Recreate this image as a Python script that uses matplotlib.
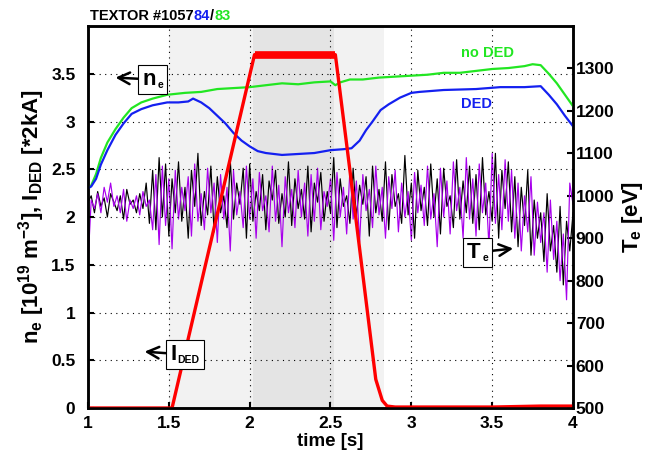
import numpy as np
import matplotlib
matplotlib.use("Agg")
import matplotlib.pyplot as plt
import matplotlib.transforms as mtransforms
from matplotlib.ticker import FuncFormatter
from matplotlib.offsetbox import AnnotationBbox, HPacker, TextArea

plt.rcParams['font.family'] = ['Liberation Sans', 'DejaVu Sans']
plt.rcParams['font.weight'] = 'bold'
plt.rcParams['mathtext.fontset'] = 'custom'
plt.rcParams['mathtext.rm'] = 'Liberation Sans:bold'
plt.rcParams['mathtext.bf'] = 'Liberation Sans:bold'
plt.rcParams['mathtext.default'] = 'bf'

# line density n_e, shot 105783 (no DED)
t_noded = [1.0, 1.02, 1.05, 1.08, 1.12, 1.17, 1.22, 1.27, 1.33, 1.40, 1.49, 1.6, 1.7,
           1.8, 1.9, 2.0, 2.1, 2.2, 2.3, 2.4, 2.5, 2.53, 2.56, 2.62, 2.7, 2.8, 2.9, 3.0,
           3.1, 3.2, 3.3, 3.4, 3.5, 3.6, 3.7, 3.75, 3.8, 3.85, 3.9, 3.95, 4.0]
ne_noded = [2.30, 2.33, 2.45, 2.62, 2.78, 2.92, 3.04, 3.14, 3.20, 3.24, 3.28, 3.30, 3.31,
            3.34, 3.35, 3.36, 3.38, 3.40, 3.39, 3.41, 3.42, 3.38, 3.41, 3.44, 3.44, 3.46,
            3.47, 3.48, 3.49, 3.51, 3.51, 3.53, 3.55, 3.56, 3.58, 3.60, 3.59, 3.50, 3.40,
            3.28, 3.16]

# line density n_e, shot 105784 (DED)
t_ded = [1.0, 1.02, 1.05, 1.08, 1.12, 1.17, 1.22, 1.27, 1.33, 1.40, 1.49, 1.56, 1.62,
         1.65, 1.70, 1.75, 1.80, 1.85, 1.90, 1.95, 2.0, 2.05, 2.1, 2.2, 2.3, 2.4, 2.5,
         2.58, 2.63, 2.68, 2.72, 2.76, 2.81, 2.86, 2.93, 3.0, 3.05, 3.2, 3.4, 3.55, 3.7,
         3.8, 3.85, 3.9, 3.95, 4.0]
ne_ded = [2.30, 2.32, 2.40, 2.55, 2.70, 2.86, 2.98, 3.08, 3.13, 3.17, 3.20, 3.20, 3.21,
          3.24, 3.20, 3.14, 3.06, 2.98, 2.88, 2.80, 2.74, 2.69, 2.67, 2.65, 2.66, 2.67,
          2.70, 2.71, 2.72, 2.80, 2.91, 3.00, 3.12, 3.18, 3.25, 3.30, 3.31, 3.33, 3.34,
          3.36, 3.36, 3.37, 3.28, 3.18, 3.06, 2.95]

# DED coil current [*2kA]
t_ided = [1.0, 1.52, 2.03, 2.53, 2.62, 2.78, 2.82, 2.85, 2.9, 3.5, 3.8, 4.0]
ided = [0.0, 0.0, 3.70, 3.70, 2.49, 0.30, 0.08, 0.02, 0.01, 0.01, 0.02, 0.02]

# electron temperature T_e [eV], sampled every 20 ms from 1.0 s to 4.0 s
t_te = np.arange(151) * 0.02 + 1.0
te_83 = [985, 1000, 960, 1010, 975, 995, 950, 1005, 985, 965,
         1000, 945, 1015, 980, 990, 960, 1005, 970, 1030, 935,
         1060, 920, 1090, 950, 1075, 905, 1040, 960, 1080, 940,
         1020, 900, 1060, 975, 1100, 930, 1010, 955, 1070, 915,
         1045, 960, 1000, 925, 1085, 945, 1030, 980, 1065, 900,
         1075, 940, 1010, 965, 1050, 920, 1035, 990, 1060, 935,
         1005, 950, 1080, 930, 1040, 970, 1015, 945, 1070, 915,
         1030, 985, 1055, 940, 1010, 960, 1090, 925, 1040, 975,
         1000, 935, 1065, 950, 1025, 980, 1045, 905, 1070, 960,
         1015, 940, 1080, 920, 1050, 975, 1005, 935, 1095, 955,
         1030, 900, 1060, 965, 1020, 930, 1075, 950, 1040, 910,
         1065, 975, 1000, 925, 1085, 945, 1035, 960, 1070, 935,
         1050, 920, 1090, 955, 1010, 940, 1100, 900, 1060, 970,
         1080, 915, 1045, 880, 1020, 930, 1060, 860, 990, 900,
         960, 845, 1005, 870, 930, 820, 975, 790, 940, 870,
         960]
te_84 = [840, 990, 970, 1005, 960, 1020, 985, 1030, 975, 1000,
         960, 1015, 940, 990, 970, 1000, 955, 1010, 975, 990,
         920, 1050, 885, 1070, 930, 1040, 875, 1060, 945, 1020,
         965, 1045, 905, 1075, 940, 1005, 920, 1065, 960, 1030,
         890, 1050, 945, 1020, 870, 1060, 955, 1010, 925, 1070,
         945, 1040, 900, 1055, 965, 1000, 915, 1070, 940, 1025,
         880, 1045, 960, 1015, 925, 1060, 950, 1030, 905, 1050,
         940, 1065, 920, 1010, 975, 1040, 895, 1055, 950, 1020,
         910, 1060, 945, 1035, 890, 1050, 965, 1015, 925, 1070,
         955, 1020, 900, 1045, 970, 1060, 915, 1030, 950, 1010,
         895, 1055, 960, 1025, 930, 1070, 945, 1005, 880, 1065,
         950, 1035, 910, 1080, 965, 1020, 900, 1090, 945, 1040,
         905, 1075, 960, 1030, 880, 1100, 935, 1050, 920, 1085,
         940, 1060, 900, 1030, 870, 1000, 915, 1045, 860, 985,
         890, 960, 820, 990, 850, 940, 800, 910, 755, 1030,
         980]

green = '#22e622'
blue = '#1420f0'
red = '#ff0000'
purple = '#a800ec'

fig = plt.figure(figsize=(6.61, 4.63), dpi=100)
ax = fig.add_axes([0.1331, 0.1188, 0.7338, 0.825])
ax2 = ax.twinx()
# left axis on top so n_e and I_DED lines cover the T_e traces
ax.set_zorder(ax2.get_zorder() + 1)
ax.patch.set_visible(False)

# DED phases
ax2.axvspan(1.5, 2.83, color='#f2f2f2', lw=0, zorder=0)
ax2.axvspan(2.02, 2.52, color='#e4e4e4', lw=0, zorder=0)

ax2.plot(t_te, te_83, color='black', lw=0.85)
ax2.plot(t_te, te_84, color=purple, lw=0.85)

ax.plot(t_noded, ne_noded, color=green, lw=1.6)
ax.plot(t_ded, ne_ded, color=blue, lw=1.6)
ax.plot(t_ided, ided, color=red, lw=2.4)
ax.plot(t_ided[2:4], ided[2:4], color=red, lw=5.5, solid_capstyle='butt')

ax.set_xlim(1, 4)
ax.set_ylim(0, 4)
ax2.set_ylim(500, 1400)
ax.set_xticks([1, 1.5, 2, 2.5, 3, 3.5, 4])
ax.set_yticks([0, 0.5, 1, 1.5, 2, 2.5, 3, 3.5])
ax2.set_yticks(range(500, 1301, 100))
fmt = FuncFormatter(lambda v, p: '%g' % v)
ax.xaxis.set_major_formatter(fmt)
ax.yaxis.set_major_formatter(fmt)
ax.grid(True, color='black', ls=(0, (1, 4)), lw=0.8)

for a in (ax, ax2):
    a.tick_params(direction='in', labelsize=12.5, width=1.5, length=4)
    for sp in a.spines.values():
        sp.set_linewidth(1.8)
ax.tick_params(top=False, right=False)
ax.tick_params(axis='y', pad=9)
ax.tick_params(axis='x', pad=6)
ax2.tick_params(pad=2)
for lab in ax.get_xticklabels() + ax.get_yticklabels() + ax2.get_yticklabels():
    lab.set_fontweight('bold')

ax.set_xlabel('time [s]', fontsize=13.5, fontweight='bold', labelpad=1)
ax.set_ylabel('n$_e$ [10$^{19}$ m$^{-3}$], I$_{DED}$ [*2kA]', fontsize=16,
              fontweight='bold', labelpad=3)
ax2.set_ylabel('T$_e$ [eV]', fontsize=16, fontweight='bold', labelpad=4)

ax.text(3.47, 3.72, 'no DED', color=green, fontsize=10.5, fontweight='bold',
        ha='center', va='center')
ax.text(3.40, 3.18, 'DED', color=blue, fontsize=10.5, fontweight='bold',
        ha='center', va='center')


def label_box(main, sub, xy, xybox):
    # boxed symbol with a small subscript and an arrow
    pack = HPacker(children=[TextArea(main, textprops=dict(fontsize=16, fontweight='bold')),
                             TextArea(sub, textprops=dict(fontsize=7.5, fontweight='bold'))],
                   align='bottom', pad=0, sep=1)
    ab = AnnotationBbox(pack, xy, xybox=xybox, xycoords='data', boxcoords='data',
                        pad=0.3, bboxprops=dict(fc='white', ec='black', lw=0.8),
                        arrowprops=dict(arrowstyle='->', color='black', lw=1.8,
                                        mutation_scale=15, shrinkA=0, shrinkB=0))
    ax.add_artist(ab)


label_box('n', 'e', (1.17, 3.46), (1.40, 3.44))
label_box('I', 'DED', (1.35, 0.59), (1.60, 0.56))
label_box('T', 'e', (3.63, 1.67), (3.41, 1.63))

# title with shot numbers coloured per trace
fig.canvas.draw()
r = fig.canvas.get_renderer()
tr = ax.transAxes
for s, c in [('TEXTOR #1057', 'black'), ('84', blue), ('/', 'black'), ('83', green)]:
    txt = ax.text(0.004, 1.016, s, color=c, transform=tr, fontsize=10.5,
                  fontweight='bold', ha='left', va='baseline')
    bb = txt.get_window_extent(renderer=r)
    tr = mtransforms.offset_copy(txt.get_transform(), fig=fig, x=bb.width, units='dots')

fig.savefig('out.png', dpi=100)
